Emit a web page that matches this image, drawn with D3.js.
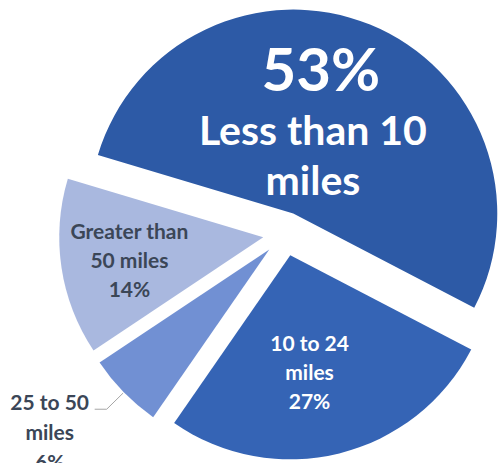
<!DOCTYPE html>
<html>
<head>
<meta charset="utf-8">
<script src="https://cdn.jsdelivr.net/npm/d3@7"></script>
<style>
  html, body { margin: 0; padding: 0; background: #ffffff; }
  svg { display: block; }
  text { font-family: Lato, "Open Sans", sans-serif; font-weight: 700; }
</style>
</head>
<body>
<svg id="chart" width="500" height="463"></svg>
<script>
// ---- data ----
const categories = ["Less than 10 miles", "10 to 24 miles", "25 to 50 miles", "Greater than 50 miles"];
const values = [53, 27, 6, 14];
const labelLines = [
  ["Less than 10", "miles"],
  ["10 to 24", "miles", "27%"],
  ["25 to 50", "miles", "6%"],
  ["Greater than", "50 miles", "14%"]
];

// ---- style ----
const colors = ["#2d5aa6", "#3564b5", "#7190d3", "#a9b8df"];
const cx = 285, cy = 234, R = 204, explode = 22;
const startDeg = -73.3;

const svg = d3.select("#chart");
const g = svg.append("g").attr("transform", `translate(${cx},${cy})`);

const pie = d3.pie().sort(null).value(d => d)
  .startAngle(startDeg * Math.PI / 180)
  .endAngle(startDeg * Math.PI / 180 + 2 * Math.PI);
const arcs = pie(values);
const arc = d3.arc().innerRadius(0).outerRadius(R);

const dir = a => [Math.sin(a), -Math.cos(a)];
function apex(d) {
  const m = (d.startAngle + d.endAngle) / 2;
  const [dx, dy] = dir(m);
  return [dx * explode, dy * explode, m];
}

arcs.forEach((d, i) => {
  const [ox, oy] = apex(d);
  g.append("g").attr("transform", `translate(${ox},${oy})`)
    .append("path").attr("d", arc(d)).attr("fill", colors[i]);
});

// 53% slice label (big)
{
  const d = arcs[0];
  const [ax, ay, m] = apex(d);
  const [dx, dy] = dir(m - 0.12);
  const x = ax + dx * 86, y = ay + dy * 86;
  g.append("text").attr("x", x + 5).attr("y", y - 40).attr("text-anchor", "middle")
    .attr("fill", "#ffffff").attr("font-size", 60).text(values[0] + "%");
  labelLines[0].forEach((t, k) => {
    g.append("text").attr("x", x - 3).attr("y", y + 14 + k * 50).attr("text-anchor", "middle")
      .attr("fill", "#ffffff").attr("font-size", 41).text(t);
  });
}

// inside labels: 27% and 14%
[[1, 119, 0.08, "#ffffff"], [3, 136, -0.03, "#3b4657"]].forEach(([i, r, da, col]) => {
  const d = arcs[i];
  const [ax, ay, m] = apex(d);
  const [dx, dy] = dir(m + da);
  const x = ax + dx * r, y = ay + dy * r;
  const lines = labelLines[i];
  const lh = 29;
  lines.forEach((t, k) => {
    g.append("text").attr("x", x).attr("y", y + (k - (lines.length - 1) / 2) * lh + 7)
      .attr("text-anchor", "middle").attr("fill", col).attr("font-size", 21).text(t);
  });
});

// 6% outside label with leader line
{
  const d = arcs[2];
  const [ax, ay, m] = apex(d);
  const [dx, dy] = dir(m);
  const p0 = [ax + dx * (R + 1), ay + dy * (R + 1)];
  const p1 = [ax + dx * 228, ay + dy * 228];
  const p2 = [p1[0] - 12, p1[1]];
  g.append("polyline").attr("points", [p0, p1, p2].map(p => p.join(",")).join(" "))
    .attr("fill", "none").attr("stroke", "#a6a6a6").attr("stroke-width", 1);
  const x = p2[0] - 45;
  labelLines[2].forEach((t, k) => {
    g.append("text").attr("x", x).attr("y", p2[1] + 1 + k * 30)
      .attr("text-anchor", "middle").attr("fill", "#3b4657").attr("font-size", 21).text(t);
  });
}
</script>
</body>
</html>
